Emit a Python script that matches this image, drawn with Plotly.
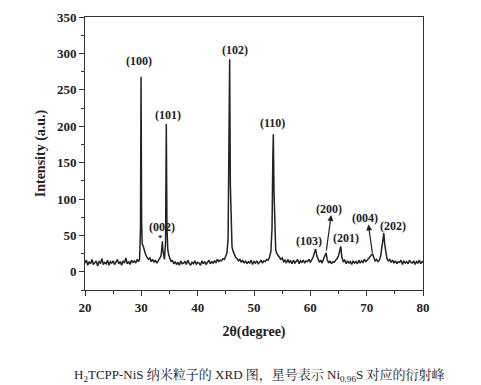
import plotly.graph_objects as go

two_theta = [20.0, 20.25, 20.5, 20.75, 21.0, 21.25, 21.5, 21.75, 22.0, 22.25, 22.5, 22.75, 23.0, 23.25, 23.5, 23.75,
             24.0, 24.25, 24.5, 24.75, 25.0, 25.25, 25.5, 25.75, 26.0, 26.25, 26.5, 26.75, 27.0, 27.25, 27.5, 27.75,
             28.0, 28.25, 28.5, 28.75, 29.0, 29.25, 29.5, 29.7, 29.85, 29.95, 30.05, 30.15, 30.3, 30.5, 30.75,
             31.0, 31.25, 31.5, 31.75, 32.0, 32.25, 32.5, 32.75, 33.0, 33.25, 33.5, 33.65, 33.73, 33.82, 33.95,
             34.1, 34.3, 34.43, 34.55, 34.7, 34.9, 35.1, 35.3, 35.5, 35.75, 36.0, 36.25, 36.5, 36.75, 37.0, 37.25,
             37.5, 37.75, 38.0, 38.25, 38.5, 38.75, 39.0, 39.25, 39.5, 39.75, 40.0, 40.25, 40.5, 40.75, 41.0, 41.25,
             41.5, 41.75, 42.0, 42.25, 42.5, 42.75, 43.0, 43.25, 43.5, 43.75, 44.0, 44.25, 44.5, 44.75, 45.0, 45.2,
             45.4, 45.55, 45.68, 45.8, 45.95, 46.1, 46.3, 46.5, 46.75, 47.0, 47.25, 47.5, 47.75, 48.0, 48.25, 48.5,
             48.75, 49.0, 49.25, 49.5, 49.75, 50.0, 50.25, 50.5, 50.75, 51.0, 51.25, 51.5, 51.75, 52.0, 52.25, 52.5,
             52.75, 53.0, 53.2, 53.35, 53.43, 53.55, 53.7, 53.85, 54.0, 54.25, 54.5, 54.75, 55.0, 55.25, 55.5, 55.75,
             56.0, 56.25, 56.5, 56.75, 57.0, 57.25, 57.5, 57.75, 58.0, 58.25, 58.5, 58.75, 59.0, 59.25, 59.5, 59.75,
             60.0, 60.25, 60.5, 60.75, 60.95, 61.15, 61.4, 61.6, 61.85, 62.1, 62.35, 62.6, 62.8, 63.0, 63.25, 63.5,
             63.75, 64.0, 64.25, 64.5, 64.75, 65.0, 65.2, 65.4, 65.6, 65.85, 66.1, 66.35, 66.6, 66.85, 67.1, 67.35,
             67.6, 67.85, 68.1, 68.35, 68.6, 68.85, 69.1, 69.35, 69.6, 69.85, 70.1, 70.35, 70.6, 70.85, 71.05, 71.25,
             71.5, 71.75, 72.0, 72.25, 72.5, 72.7, 72.9, 73.05, 73.2, 73.4, 73.6, 73.85, 74.1, 74.35, 74.6, 74.85,
             75.1, 75.35, 75.6, 75.85, 76.1, 76.35, 76.6, 76.85, 77.1, 77.35, 77.6, 77.85, 78.1, 78.35, 78.6, 78.85,
             79.1, 79.35, 79.6, 79.85, 80.0]

intensity = [12, 16, 9, 14, 11, 17, 10, 13, 15, 8, 14, 12, 18, 10, 13, 11,
             16, 9, 14, 12, 15, 10, 13, 17, 11, 14, 9, 15, 12, 19, 11, 14,
             10, 16, 13, 15, 12, 17, 14, 18, 60, 268, 70, 38, 36, 30, 24,
             20, 17, 19, 14, 17, 13, 16, 12, 15, 18, 22, 34, 42, 30, 20,
             17, 40, 203, 60, 30, 22, 18, 14, 16, 11, 14, 10, 13, 9, 15, 11,
             12, 14, 10, 16, 12, 9, 13, 11, 15, 10, 13, 12, 9, 15, 11, 14,
             10, 13, 16, 11, 14, 12, 15, 13, 17, 14, 16, 15, 18, 17, 21, 26,
             45, 150, 292, 120, 50, 34, 28, 24, 20, 18, 15, 17, 13, 16, 12, 15,
             11, 14, 12, 16, 10, 14, 12, 15, 11, 13, 16, 12, 15, 14, 17, 16,
             20, 28, 60, 160, 189, 110, 45, 30, 26, 22, 20, 17, 19, 14, 16, 12,
             17, 13, 15, 11, 16, 12, 14, 17, 11, 15, 13, 16, 12, 15, 14, 17,
             13, 16, 20, 27, 31, 22, 15, 13, 16, 12, 18, 22, 26, 17, 12, 15,
             11, 14, 13, 16, 18, 22, 30, 35, 20, 14, 16, 11, 15, 12, 14, 10,
             15, 12, 14, 11, 16, 12, 15, 13, 17, 14, 16, 18, 20, 22, 25, 20,
             15, 17, 14, 16, 22, 34, 48, 53, 38, 24, 18, 15, 17, 13, 16, 12,
             15, 11, 14, 13, 16, 10, 15, 12, 14, 11, 16, 13, 12, 15, 10, 14,
             12, 16, 11, 14, 13]

peak_labels = ["(100)", "(101)", "(102)", "(110)", "(002)", "(103)", "(200)", "(201)", "(004)", "(202)"]
label_x = [29.6, 34.7, 46.6, 53.25, 33.6, 59.8, 63.4, 66.4, 69.7, 74.6]
label_y = [289, 215, 305, 204, 61, 42, 86, 46, 74, 63]

x_ticks = [20, 30, 40, 50, 60, 70, 80]
y_ticks = [0, 50, 100, 150, 200, 250, 300, 350]

SERIF = "Liberation Serif, Times New Roman, Noto Serif CJK SC, Noto Sans CJK SC, serif"

fig = go.Figure()
fig.add_trace(go.Scatter(x=two_theta, y=intensity, mode="lines",
                         line=dict(color="#222222", width=1.5), showlegend=False))

ann = []
for t, xx, yy in zip(peak_labels, label_x, label_y):
    ann.append(dict(x=xx, y=yy, xref="x", yref="y", text="<b>" + t + "</b>", showarrow=False,
                    font=dict(family=SERIF, size=12, color="#222")))
# asterisk on the Ni0.96S peak
ann.append(dict(x=33.45, y=46, xref="x", yref="y", text="<b>*</b>", showarrow=False,
                font=dict(family=SERIF, size=9, color="#222")))
# arrows for (200) and (004)
ann.append(dict(x=63.7, y=78, ax=62.8, ay=27, xref="x", yref="y", axref="x", ayref="y",
                text="", showarrow=True, arrowhead=2, arrowsize=1, arrowwidth=1.2, arrowcolor="#222"))
ann.append(dict(x=70.3, y=65, ax=71.05, ay=24, xref="x", yref="y", axref="x", ayref="y",
                text="", showarrow=True, arrowhead=2, arrowsize=1, arrowwidth=1.2, arrowcolor="#222"))
# caption
ann.append(dict(x=0.516, y=-0.315, xref="paper", yref="paper", xanchor="center", yanchor="middle",
                text="H<sub>2</sub>TCPP-NiS 纳米粒子的 XRD 图，星号表示 Ni<sub>0.96</sub>S 对应的衍射峰",
                showarrow=False, font=dict(family=SERIF, size=13, color="#222")))

fig.update_layout(
    width=481, height=385,
    margin=dict(l=85, r=58, t=17, b=95, autoexpand=False),
    paper_bgcolor="white", plot_bgcolor="white",
    annotations=ann,
    xaxis=dict(range=[20, 80], tickvals=x_ticks, ticktext=["<b>%d</b>" % v for v in x_ticks],
               ticks="outside", ticklen=5, tickwidth=1, tickcolor="#333", automargin=False,
               minor=dict(dtick=5, ticks="outside", ticklen=3, tickcolor="#333"),
               showline=True, linecolor="#333", linewidth=1, mirror=True, showgrid=False, zeroline=False,
               tickfont=dict(family=SERIF, size=13, color="#222"),
               title=dict(text="<b>2θ(degree)</b>", font=dict(family=SERIF, size=14, color="#222"), standoff=12)),
    yaxis=dict(range=[-25, 350], tickvals=y_ticks, ticktext=["<b>%d</b>" % v for v in y_ticks],
               ticks="outside", ticklen=5, tickwidth=1, tickcolor="#333", automargin=False,
               minor=dict(dtick=25, tick0=0, ticks="outside", ticklen=3, tickcolor="#333"),
               showline=True, linecolor="#333", linewidth=1, mirror=True, showgrid=False, zeroline=False,
               tickfont=dict(family=SERIF, size=13, color="#222"),
               title=dict(text="<b>Intensity (a.u.)</b>", font=dict(family=SERIF, size=14, color="#222"), standoff=8)),
)

fig.write_html("out.html", config={"displayModeBar": False},
               post_script="document.body.style.margin='0';document.body.style.overflow='hidden';")
